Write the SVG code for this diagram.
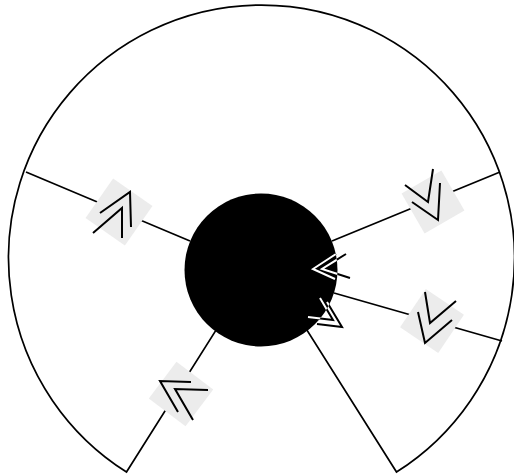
<svg xmlns="http://www.w3.org/2000/svg" width="514" height="474" viewBox="0 0 514 474">
<style>
.edge{fill:none;stroke:#000;stroke-width:1.7}
.pad{fill:#ececec;stroke:none}
.chev{fill:none;stroke:#000;stroke-width:2;stroke-linejoin:miter;stroke-linecap:butt}
.chevw{fill:none;stroke:#fff;stroke-width:2;stroke-linejoin:miter;stroke-linecap:butt}
</style>
<defs>
<clipPath id="hubclip"><circle cx="261" cy="270" r="76.5"/></clipPath>
</defs>
<rect width="514" height="474" fill="#fff"/>
<g id="sector">
<path class="edge" d="M126.5,472 L261.5,258 L396.5,472 A253,253 0 1 0 126.5,472 Z"/>
</g>
<g id="hub">
<circle cx="261" cy="270" r="76.5" fill="#000"/>
</g>
<g id="connectors">
<line class="edge" x1="26" y1="172" x2="190" y2="241"/>
<line class="edge" x1="500" y1="172" x2="332" y2="241"/>
<line class="edge" x1="502" y1="341" x2="334" y2="293"/>
<g id="marker-a">
<rect class="pad" x="-24" y="-24" width="48" height="48" transform="translate(119,212) rotate(35)"/>
<polyline class="chev" points="100,213 130,192 131,227"/>
<polyline class="chev" points="93,233 122,208 122,238"/>
</g>
<g id="marker-b">
<rect class="pad" x="-23" y="-23" width="46" height="46" transform="translate(433,202) rotate(-30)"/>
<polyline class="chev" points="405,185 428,202 433,169"/>
<polyline class="chev" points="412,202 438,220 440,183"/>
</g>
<g id="marker-c">
<rect class="pad" x="-23" y="-23" width="46" height="46" transform="translate(432,321) rotate(34)"/>
<polyline class="chev" points="425,292 430,323 456,301"/>
<polyline class="chev" points="418,312 425,343 452,320"/>
</g>
<g id="marker-d">
<rect class="pad" x="-23" y="-23" width="46" height="46" transform="translate(181,394) rotate(37)"/>
<polyline class="chev" points="191,382 160,381 178,412"/>
<polyline class="chev" points="208,390 175,389 193,420"/>
</g>
<g id="marker-e">
<polyline class="chev" points="336,254 313,269 335,279"/>
<polyline class="chev" points="346,254 322,269 350,278"/>
<g clip-path="url(#hubclip)">
<polyline class="chevw" points="336,254 313,269 335,279"/>
<polyline class="chevw" points="346,254 322,269 350,278"/>
</g>
</g>
<g id="marker-f">
<polyline class="chev" points="320,298 333,320 308,317"/>
<polyline class="chev" points="327,302 342,327 317,324"/>
<g clip-path="url(#hubclip)">
<polyline class="chevw" points="320,298 333,320 308,317"/>
<polyline class="chevw" points="327,302 342,327 317,324"/>
</g>
</g>
</g>
</svg>
